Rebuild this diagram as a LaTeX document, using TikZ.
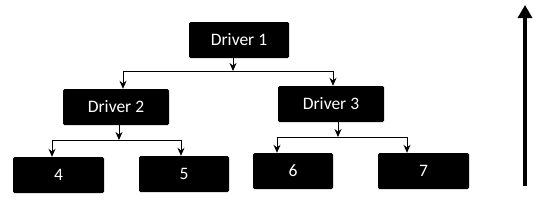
\documentclass[tikz,border=0pt]{standalone}
\usepackage{fontspec}
\setmainfont{Carlito}
\usetikzlibrary{arrows.meta,calc}
\newcommand{\branch}[7]{%
  % parent, junction x, junction y, left x, right x, left child, right child.
  \coordinate (#1-j) at (#2,#3);
  \coordinate (#1-l) at (#4,#3);
  \coordinate (#1-r) at (#5,#3);
  \draw[feed] (#1.south -| #1-j) -- (#1-j);
  \draw[link] (#1-l) -- (#1-r);
  \draw[feed] (#1-l) -- (#6.north -| #1-l);
  \draw[feed] (#1-r) -- (#7.north -| #1-r);
}

\begin{document}
\begin{tikzpicture}[x=1pt,y=-1pt,
  box/.style={fill=black,text=white,rounded corners=1.5pt,minimum height=36pt,
    inner sep=0pt,font=\fontsize{17.5}{20}\selectfont},
  link/.style={line width=0.9pt},
  feed/.style={link,-{Stealth[length=8pt,width=7pt]}}]
  \useasboundingbox (0,0) rectangle (559,218);
  \node[box,minimum width=100pt] (drv1) at (239,40) {Driver 1};
  \node[box,minimum width=106pt] (drv2) at (116,107) {Driver 2};
  \node[box,minimum width=106pt] (drv3) at (331,104) {Driver 3};
  \node[box,minimum width=91pt] (n4) at (58.5,175) {4};
  \node[box,minimum width=90pt] (n5) at (184,174) {5};
  \node[box,minimum width=80pt] (n6) at (293,171) {6};
  \node[box,minimum width=91pt] (n7) at (423.5,171) {7};
  \branch{drv1}{233}{71}{123}{333}{drv2}{drv3}
  \branch{drv2}{119}{140}{52}{181}{n4}{n5}
  \branch{drv3}{338}{137}{277}{407}{n6}{n7}
  \coordinate (tail) at (525,186);
  \coordinate (head) at (525,5);
  \draw[line width=4pt,-{Triangle[length=13pt,width=14pt]}] (tail) -- (head);
\end{tikzpicture}
\end{document}
